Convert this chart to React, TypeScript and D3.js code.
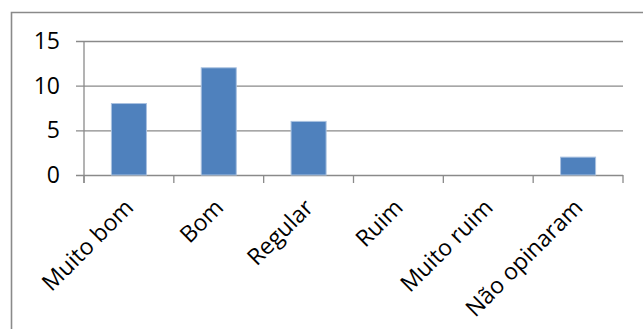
import React, { useEffect, useRef } from 'react';
import * as d3 from 'd3';

const categories = ['Muito bom', 'Bom', 'Regular', 'Ruim', 'Muito ruim', 'Não opinaram'];
const values = [8, 12, 6, 0, 0, 2];
const yTicks = [0, 5, 10, 15];

const WIDTH = 643;
const HEIGHT = 329;
const PLOT = { left: 84, right: 623, top: 41, bottom: 175 };
const FONT = '"Open Sans", "Liberation Sans", sans-serif';

const App = () => {
  const ref = useRef<SVGSVGElement>(null);

  useEffect(() => {
    if (!ref.current) return;
    const svg = d3.select(ref.current);
    svg.selectAll('*').remove();

    // outer chart frame (only top and left edges are visible)
    svg.append('path')
      .attr('d', `M11.5,${HEIGHT} V12.5 H${WIDTH}`)
      .attr('fill', 'none')
      .attr('stroke', '#8a8a8a')
      .attr('stroke-width', 1.6);

    const x = d3.scaleBand<string>()
      .domain(categories)
      .range([PLOT.left, PLOT.right])
      .paddingInner(0)
      .paddingOuter(0);

    const y = d3.scaleLinear()
      .domain([0, 15])
      .range([PLOT.bottom, PLOT.top]);

    // gridlines + y axis labels
    const yAxis = d3.axisLeft(y)
      .tickValues(yTicks)
      .tickSize(-(PLOT.right - PLOT.left) - 8)
      .tickPadding(16)
      .tickFormat((d) => String(d));

    const gy = svg.append('g')
      .attr('transform', `translate(${PLOT.left - 8},0)`)
      .call(yAxis);
    gy.select('.domain').remove();
    gy.selectAll('.tick line').attr('stroke', '#8a8a8a').attr('stroke-width', 1.3);
    gy.selectAll('.tick text')
      .attr('fill', '#000')
      .style('font-family', FONT)
      .style('font-size', '23px');

    // vertical axis line
    svg.append('line')
      .attr('x1', PLOT.left).attr('x2', PLOT.left)
      .attr('y1', PLOT.top).attr('y2', PLOT.bottom + 8)
      .attr('stroke', '#8a8a8a')
      .attr('stroke-width', 1.3);

    // category ticks
    const edges = categories.map((c) => x(c)!).concat([PLOT.right]);
    svg.append('g')
      .selectAll('line')
      .data(edges)
      .enter()
      .append('line')
      .attr('x1', (d) => d).attr('x2', (d) => d)
      .attr('y1', PLOT.bottom).attr('y2', PLOT.bottom + 8)
      .attr('stroke', '#8a8a8a')
      .attr('stroke-width', 1.3);

    // bars
    const barW = x.bandwidth() * 0.39;
    svg.append('g')
      .selectAll('rect')
      .data(values)
      .enter()
      .append('rect')
      .attr('x', (d, i) => x(categories[i])! + (x.bandwidth() - barW) / 2)
      .attr('y', (d) => y(d))
      .attr('width', barW)
      .attr('height', (d) => y(0) - y(d))
      .attr('fill', '#4f81bd')
      .attr('stroke', (d) => (d > 0 ? '#a9c1e0' : 'none'))
      .attr('stroke-width', 1);

    // rotated category labels
    svg.append('g')
      .selectAll('text')
      .data(categories)
      .enter()
      .append('text')
      .attr('transform', (d) => `translate(${x(d)! + x.bandwidth() / 2 + 6},209) rotate(-45)`)
      .attr('text-anchor', 'end')
      .style('font-family', FONT)
      .style('font-size', '23px')
      .attr('fill', '#000')
      .text((d) => d);
  }, []);

  return (
    <svg
      ref={ref}
      width={WIDTH}
      height={HEIGHT}
      style={{ position: 'absolute', left: 0, top: 0, background: '#fff' }}
    />
  );
};

export default App;
